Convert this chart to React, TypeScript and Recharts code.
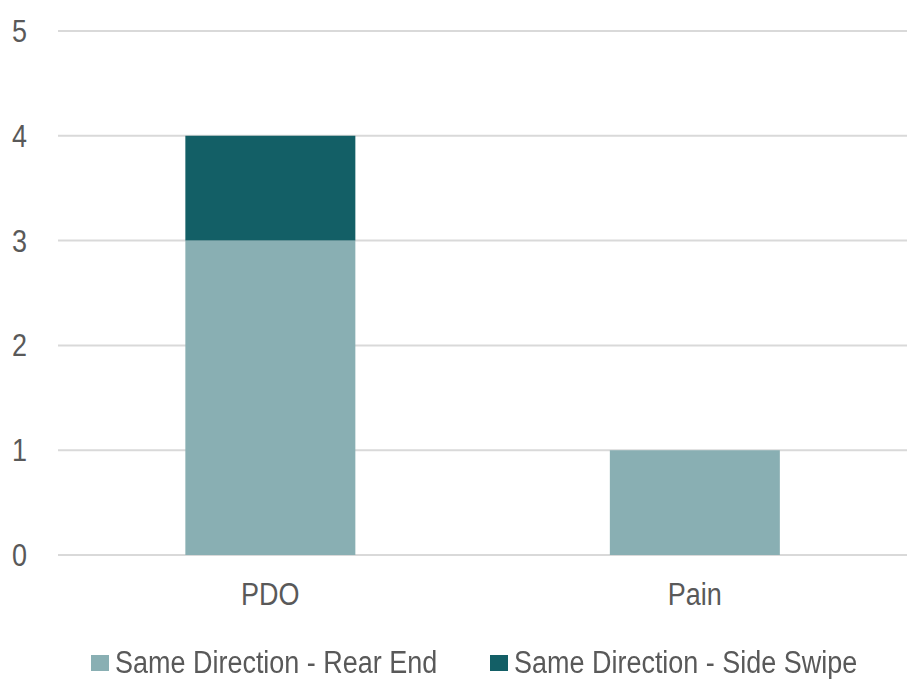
import { BarChart, Bar, XAxis, YAxis, CartesianGrid, Legend } from "recharts";

const categories = ["PDO", "Pain"];
const rearEnd = [3, 1];
const sideSwipe = [1, 0];
const yTicks = [0, 1, 2, 3, 4, 5];

const FONT = '"Liberation Sans Narrow", "Arial Narrow", "Liberation Sans", Arial, sans-serif';
const TEXT = "#595959";
const SQUEEZE = 0.87;

const data = categories.map((name, i) => ({
  name,
  rearEnd: rearEnd[i],
  sideSwipe: sideSwipe[i],
}));

// narrow-looking tick text (no condensed font installed)
function NarrowTick({ x, y, payload, anchor, dy }: any) {
  return (
    <g transform={`translate(${x},${y}) scale(${SQUEEZE},1)`}>
      <text x={0} y={0} dy={dy} textAnchor={anchor} fill={TEXT} fontSize={31} fontFamily={FONT}>
        {payload.value}
      </text>
    </g>
  );
}

function LegendContent({ payload }: any) {
  return (
    <div
      style={{
        height: 50,
        boxSizing: "border-box",
        paddingTop: 17,
        paddingLeft: 91,
        display: "flex",
        fontFamily: FONT,
        fontSize: 31,
        lineHeight: "32px",
        color: TEXT,
      }}
    >
      {(payload || []).map((p: any) => (
        <div key={p.value} style={{ display: "flex", alignItems: "center", width: 399, whiteSpace: "nowrap" }}>
          <span style={{ width: 18, height: 16, background: p.color, marginRight: 6, display: "inline-block", flex: "none" }} />
          <span style={{ display: "inline-block", transform: `scaleX(${SQUEEZE})`, transformOrigin: "left center" }}>
            {p.value}
          </span>
        </div>
      ))}
    </div>
  );
}

export default function App() {
  return (
    <div style={{ position: "fixed", top: 0, left: 0, width: 907, height: 679, background: "#fff" }}>
      <BarChart
        width={907}
        height={679}
        data={data}
        margin={{ top: 31, right: 0, left: 0, bottom: 0 }}
        barCategoryGap="30%"
      >
        <CartesianGrid vertical={false} stroke="#D9D9D9" strokeWidth={2} />
        <XAxis
          dataKey="name"
          height={74}
          axisLine={false}
          tickLine={false}
          tickSize={0}
          tickMargin={28}
          tick={<NarrowTick anchor="middle" dy="0.71em" />}
        />
        <YAxis
          width={58}
          domain={[0, 5]}
          ticks={yTicks}
          axisLine={false}
          tickLine={false}
          tickSize={0}
          tickMargin={31}
          tick={<NarrowTick anchor="end" dy="0.355em" />}
        />
        <Legend verticalAlign="bottom" content={<LegendContent />} />
        <Bar dataKey="rearEnd" name="Same Direction - Rear End" stackId="a" fill="#89AFB3" isAnimationActive={false} />
        <Bar dataKey="sideSwipe" name="Same Direction - Side Swipe" stackId="a" fill="#135F66" isAnimationActive={false} />
      </BarChart>
    </div>
  );
}
